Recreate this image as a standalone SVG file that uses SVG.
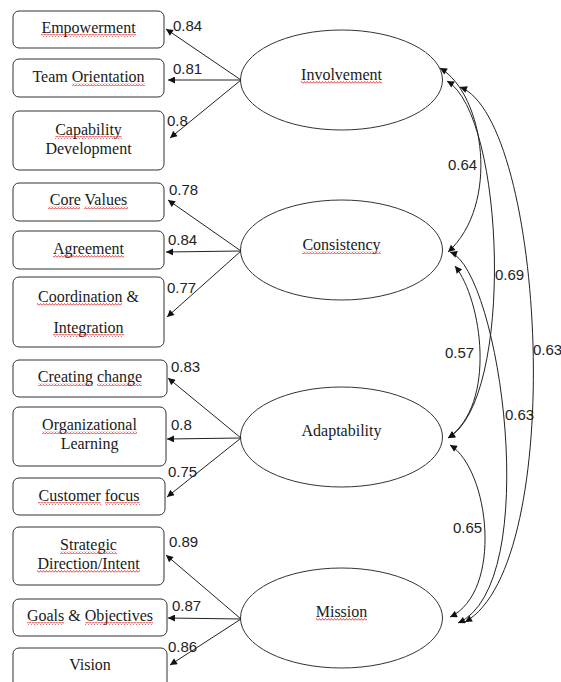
<svg xmlns="http://www.w3.org/2000/svg" width="561" height="682" viewBox="0 0 561 682">
<style>
.box{fill:#fff;stroke:#333;stroke-width:1}
.ell{fill:#fff;stroke:#333;stroke-width:1}
.t{font-family:"Liberation Serif","Times New Roman",serif;font-size:16px;fill:#1a1a1a;text-anchor:middle}
.n{font-family:"Liberation Sans",Arial,sans-serif;font-size:15px;fill:#222}
.c{fill:none;stroke:#222;stroke-width:1}
.sq{fill:url(#sq)}
</style>
<defs>
<marker id="ah" viewBox="0 0 10 10" refX="10" refY="5" markerWidth="9" markerHeight="7" markerUnits="userSpaceOnUse" orient="auto-start-reverse">
<path d="M0,0 L10,5 L0,10 z" fill="#111"/>
</marker>
<pattern id="sq" x="0" y="0" width="3" height="3" patternUnits="userSpaceOnUse">
<path d="M0,2.5 L1.5,0.5 L3,2.5" fill="none" stroke="#e02020" stroke-width="0.8"/>
</pattern>
</defs>

<g id="empowerment"><rect class="box" x="13" y="11" width="151" height="37" rx="6"/><text class="t" x="88.5" y="33">Empowerment</text><rect class="sq" x="41" y="34" width="95" height="3"/></g>
<g id="team-orientation"><rect class="box" x="13" y="59" width="151" height="38" rx="6"/><text class="t" x="88.5" y="82">Team Orientation</text><rect class="sq" x="72" y="83" width="73" height="3"/></g>
<g id="capability-development"><rect class="box" x="13" y="111" width="151" height="59" rx="6"/><text class="t" x="88.5" y="135">Capability</text><text class="t" x="88.5" y="154">Development</text><rect class="sq" x="55" y="136" width="67" height="3"/></g>

<g id="core-values"><rect class="box" x="13" y="183" width="151" height="38" rx="6"/><text class="t" x="88.5" y="205">Core Values</text><rect class="sq" x="48" y="206" width="32" height="3"/><rect class="sq" x="84" y="206" width="44" height="3"/></g>
<g id="agreement"><rect class="box" x="13" y="231" width="151" height="38" rx="6"/><text class="t" x="88.5" y="254">Agreement</text><rect class="sq" x="53" y="255" width="71" height="3"/></g>
<g id="coordination-integration"><rect class="box" x="13" y="277" width="151" height="70" rx="6"/><text class="t" x="88.5" y="302">Coordination &amp;</text><text class="t" x="88.5" y="333">Integration</text><rect class="sq" x="37" y="303" width="85" height="3"/><rect class="sq" x="53" y="334" width="71" height="3"/></g>

<g id="creating-change"><rect class="box" x="13" y="360" width="154" height="37" rx="6"/><text class="t" x="90" y="382">Creating change</text><rect class="sq" x="38" y="383" width="55" height="3"/><rect class="sq" x="97" y="383" width="45" height="3"/></g>
<g id="organizational-learning"><rect class="box" x="13" y="407" width="153" height="59" rx="6"/><text class="t" x="89.5" y="430">Organizational</text><text class="t" x="89.5" y="449">Learning</text><rect class="sq" x="42" y="431" width="95" height="3"/></g>
<g id="customer-focus"><rect class="box" x="13" y="478" width="152" height="37" rx="6"/><text class="t" x="89" y="501">Customer focus</text><rect class="sq" x="38" y="502" width="63" height="3"/><rect class="sq" x="105" y="502" width="35" height="3"/></g>

<g id="strategic-direction"><rect class="box" x="13" y="527" width="151" height="58" rx="6"/><text class="t" x="88.5" y="550">Strategic</text><text class="t" x="88.5" y="569">Direction/Intent</text><rect class="sq" x="60" y="551" width="57" height="3"/><rect class="sq" x="37" y="570" width="103" height="3"/></g>
<g id="goals-objectives"><rect class="box" x="13" y="599" width="154" height="37" rx="6"/><text class="t" x="90" y="621">Goals &amp; Objectives</text><rect class="sq" x="27" y="622" width="37" height="3"/><rect class="sq" x="85" y="622" width="68" height="3"/></g>
<g id="vision"><rect class="box" x="13" y="648" width="154" height="44" rx="6"/><text class="t" x="90" y="670">Vision</text></g>

<g id="involvement"><ellipse class="ell" cx="341.5" cy="80" rx="101" ry="50"/><text class="t" x="341.5" y="80">Involvement</text><rect class="sq" x="301" y="81" width="81" height="3"/></g>
<g id="consistency"><ellipse class="ell" cx="341.5" cy="250" rx="101" ry="50"/><text class="t" x="341.5" y="250">Consistency</text><rect class="sq" x="302" y="251" width="79" height="3"/></g>
<g id="adaptability"><ellipse class="ell" cx="341.5" cy="437" rx="101" ry="50"/><text class="t" x="341.5" y="436">Adaptability</text></g>
<g id="mission"><ellipse class="ell" cx="341.5" cy="618" rx="101" ry="50"/><text class="t" x="341.5" y="617">Mission</text><rect class="sq" x="316" y="618" width="51" height="3"/></g>

<g id="connectors">
<line class="c" x1="241" y1="80" x2="166" y2="29" marker-end="url(#ah)"/>
<line class="c" x1="241" y1="80" x2="168" y2="80" marker-end="url(#ah)"/>
<line class="c" x1="241" y1="80" x2="170" y2="138" marker-end="url(#ah)"/>
<line class="c" x1="241" y1="251" x2="168" y2="200" marker-end="url(#ah)"/>
<line class="c" x1="241" y1="251" x2="166" y2="252" marker-end="url(#ah)"/>
<line class="c" x1="241" y1="251" x2="167" y2="317" marker-end="url(#ah)"/>
<line class="c" x1="241" y1="438" x2="168" y2="378" marker-end="url(#ah)"/>
<line class="c" x1="241" y1="438" x2="167" y2="439" marker-end="url(#ah)"/>
<line class="c" x1="241" y1="438" x2="167" y2="497" marker-end="url(#ah)"/>
<line class="c" x1="241" y1="619" x2="166" y2="555" marker-end="url(#ah)"/>
<line class="c" x1="241" y1="619" x2="168" y2="618" marker-end="url(#ah)"/>
<line class="c" x1="241" y1="619" x2="170" y2="665" marker-end="url(#ah)"/>

<path class="c" d="M440,68 C485,95 500,205 448,252" marker-start="url(#ah)" marker-end="url(#ah)"/>
<path class="c" d="M447,81 C505,115 515,400 448,438" marker-start="url(#ah)" marker-end="url(#ah)"/>
<path class="c" d="M460,87 C545,120 568,564 465,622" marker-start="url(#ah)" marker-end="url(#ah)"/>
<path class="c" d="M455,266 C482,300 497,404 448,438" marker-start="url(#ah)" marker-end="url(#ah)"/>
<path class="c" d="M450,252 C500,270 544,585 458,623" marker-start="url(#ah)" marker-end="url(#ah)"/>
<path class="c" d="M450,445 C490,470 503,592 450,617" marker-start="url(#ah)" marker-end="url(#ah)"/>
</g>

<g id="labels">
<text class="n" x="173" y="31">0.84</text>
<text class="n" x="173" y="74">0.81</text>
<text class="n" x="167" y="126">0.8</text>
<text class="n" x="169" y="195">0.78</text>
<text class="n" x="168" y="245">0.84</text>
<text class="n" x="167" y="293">0.77</text>
<text class="n" x="171" y="372">0.83</text>
<text class="n" x="171" y="430">0.8</text>
<text class="n" x="168" y="477">0.75</text>
<text class="n" x="169" y="547">0.89</text>
<text class="n" x="172" y="611">0.87</text>
<text class="n" x="168" y="652">0.86</text>
<text class="n" x="448" y="170">0.64</text>
<text class="n" x="495" y="280">0.69</text>
<text class="n" x="445" y="358">0.57</text>
<text class="n" x="505" y="420">0.63</text>
<text class="n" x="533" y="355">0.63</text>
<text class="n" x="453" y="533">0.65</text>
</g>
</svg>
